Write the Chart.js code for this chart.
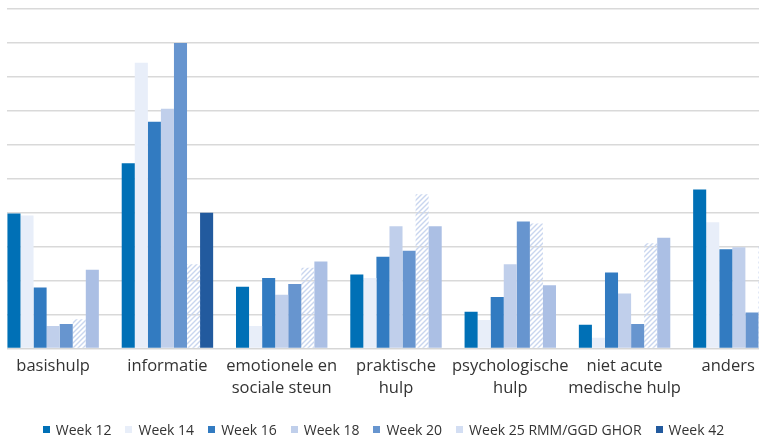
<!DOCTYPE html>
<html><head><meta charset="utf-8">
<script src="https://cdn.jsdelivr.net/npm/chart.js@4/dist/chart.umd.min.js"></script>
<style>
html,body{margin:0;padding:0;background:#fff;}
#wrap{position:relative;width:759px;height:440px;overflow:hidden;background:#fff;}
#cv{position:absolute;left:-4px;top:0;}
#legend{position:absolute;top:420px;left:0;width:767px;display:flex;justify-content:center;align-items:center;font-family:'Open Sans',sans-serif;font-size:14px;color:#333;white-space:nowrap;}
#legend .it{display:flex;align-items:center;margin:0 7px;}
#legend .bx{width:7px;height:7px;margin-right:6px;}
</style></head>
<body>
<div id="wrap"><canvas id="cv" width="800" height="440"></canvas><div id="legend"></div></div>
<script>
const categories = [['basishulp'], ['informatie'], ['emotionele en','sociale steun'], ['praktische','hulp'], ['psychologische','hulp'], ['niet acute','medische hulp'], ['anders\u00a0\u00a0\u00a0\u00a0\u00a0']];
const seriesNames = ['Week 12','Week 14','Week 16','Week 18','Week 20','Week 25 RMM/GGD GHOR','Week 42'];
const week12 = [19.9, 27.3, 9.1, 10.9, 5.4, 3.5, 23.4];
const week14 = [19.6, 42.1, 3.3, 10.4, 4.2, 1.6, 18.6];
const week16 = [9.0, 33.4, 10.4, 13.5, 7.6, 11.2, 14.6];
const week18 = [3.3, 35.3, 7.9, 18.0, 12.4, 8.1, 14.9];
const week20 = [3.6, 45.0, 9.5, 14.4, 18.7, 3.6, 5.3];
const week25 = [4.3, 12.4, 11.9, 22.7, 18.4, 15.5, 15.0];
const week42 = [11.6, 20.0, 12.8, 18.0, 9.3, 16.3, 12.0];
const yTicks = [0,5,10,15,20,25,30,35,40,45,50];

function hatch(){
  const s=5, c=document.createElement('canvas'); c.width=s; c.height=s;
  const g=c.getContext('2d'); g.strokeStyle='#c9d6ef'; g.lineWidth=1.4;
  g.beginPath(); g.moveTo(0,s); g.lineTo(s,0); g.moveTo(-1,1); g.lineTo(1,-1); g.moveTo(s-1,s+1); g.lineTo(s+1,s-1); g.stroke();
  return g.createPattern(c,'repeat');
}
const hatchPat = hatch();
const colors = ['#0070b6','#e8eef9','#327bc1','#c0cfeb','#6795cf', hatchPat, ['#abbfe4','#225a9e','#abbfe4','#abbfe4','#abbfe4','#abbfe4','#abbfe4']];
const legendColors = ['#0070b6','#e8eef9','#327bc1','#c0cfeb','#6795cf','#d3def3','#225a9e'];
const values = [week12,week14,week16,week18,week20,week25,week42];

const clipLeft = {id:'clipLeft',
  beforeDraw(chart){const ctx=chart.ctx; ctx.save(); ctx.beginPath(); ctx.rect(11,0,chart.width,chart.height); ctx.clip();},
  afterDraw(chart){chart.ctx.restore();}};

const chart = new Chart(document.getElementById('cv'), {
  type:'bar',
  data:{labels:categories, datasets: seriesNames.map((n,i)=>({label:n,data:values[i],backgroundColor:colors[i],borderWidth:0}))},
  options:{
    responsive:false, animation:false,
    layout:{padding:{top:9,bottom:41.5,left:0,right:0}},
    datasets:{bar:{categoryPercentage:0.8,barPercentage:1.0}},
    plugins:{legend:{display:false},tooltip:{enabled:false}},
    scales:{
      x:{grid:{display:false},border:{color:'#d6d6d6',width:1},
         ticks:{padding:-1,color:'#333',font:{family:'Open Sans',size:16.5,lineHeight:1.333},maxRotation:0,autoSkip:false}},
      y:{min:0,max:50,afterBuildTicks:(s)=>{s.ticks=yTicks.map(v=>({value:v}));},
         ticks:{display:false},border:{display:false},
         grid:{color:'#d9d9d9',lineWidth:1.5,drawTicks:false}}
    }
  },
  plugins:[clipLeft]
});

const lg=document.getElementById('legend');
seriesNames.forEach((n,i)=>{const d=document.createElement('div');d.className='it';
  d.innerHTML='<span class="bx" style="background:'+legendColors[i]+'"></span><span>'+n+'</span>';lg.appendChild(d);});
</script>
</body></html>
